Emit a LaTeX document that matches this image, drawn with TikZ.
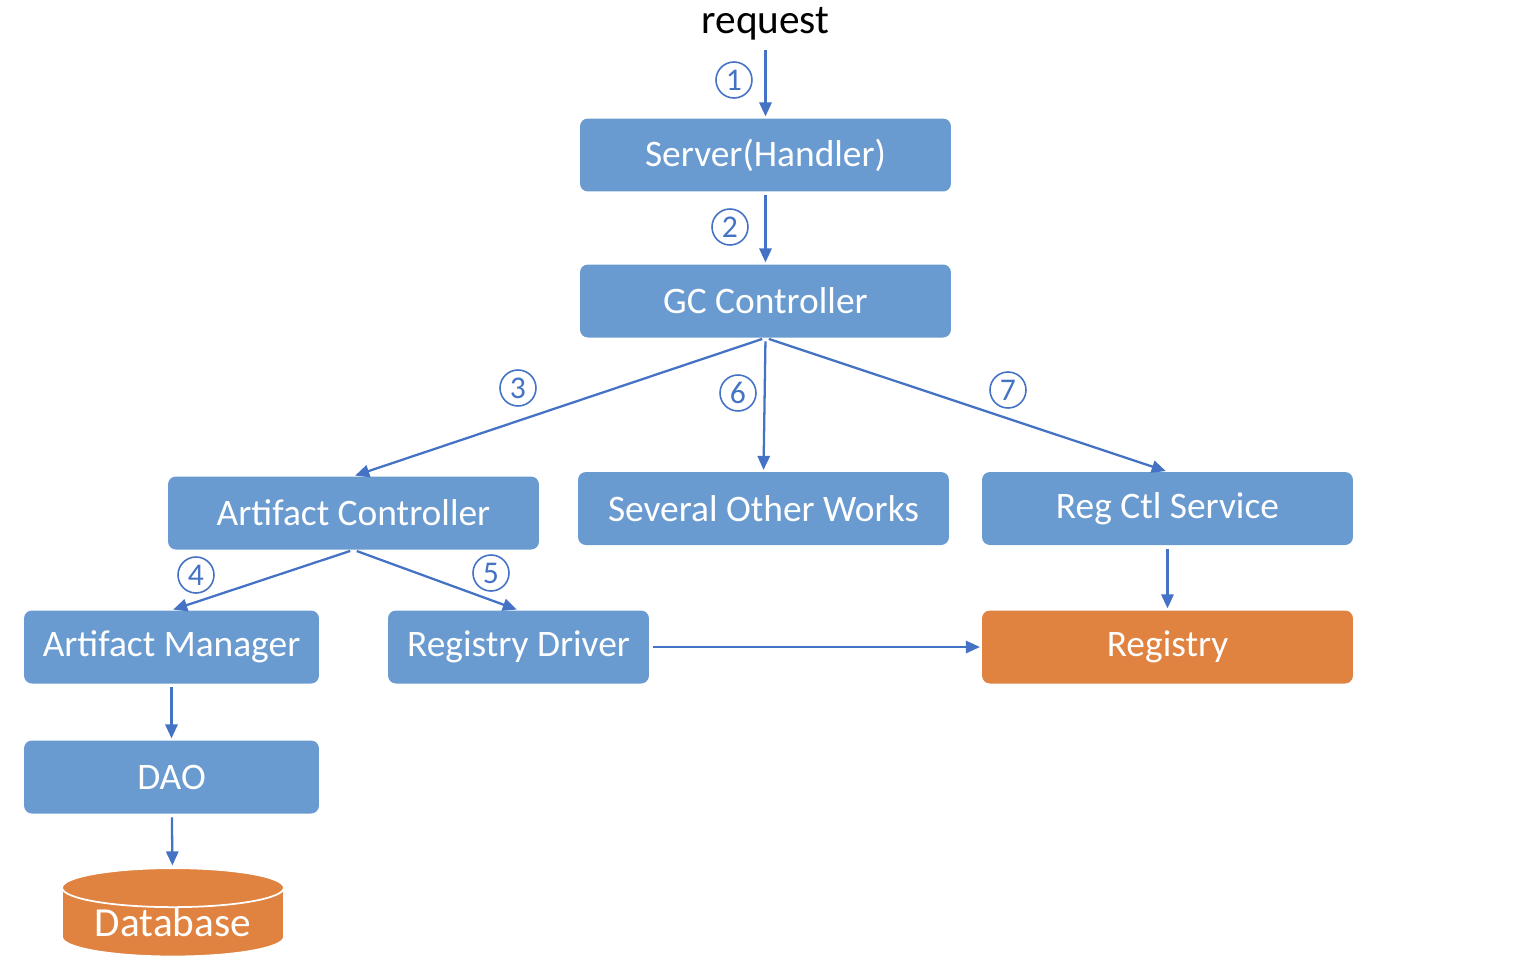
\documentclass[tikz,border=0pt]{standalone}
\usepackage{fontspec}
\setmainfont{Carlito}
\usetikzlibrary{arrows.meta}
\usetikzlibrary{positioning}
\usetikzlibrary{shapes.geometric}
\definecolor{boxblue}{RGB}{106,155,208}
\definecolor{boxorange}{RGB}{224,130,64}
\definecolor{linkblue}{RGB}{68,114,196}

\begin{document}
\begin{tikzpicture}[x=0.02cm,y=-0.02cm,
  block/.style={rectangle, rounded corners=4.5pt, fill=boxblue, text=white, inner sep=0pt, minimum height=1.46cm, font=\fontsize{21.3}{24}\selectfont},
  store/.style={block, fill=boxorange},
  link/.style={draw=linkblue, line width=1.3pt, -{Triangle[length=8pt, width=7pt]}, shorten <=2pt, shorten >=1pt},
  stepno/.style={circle, draw=linkblue, line width=0.9pt, text=linkblue, inner sep=0pt, minimum size=0.72cm, font=\fontsize{18}{18}\selectfont}]
\useasboundingbox (0,0) rectangle (1536,978);

% boxes
\node[font=\fontsize{23.5}{26}\selectfont] (req) at (765.5,24) {request};
\node[block, minimum width=7.42cm] (server) at (765.5,155) {Server(Handler)};
\node[block, minimum width=7.42cm] (gc) at (765.5,301) {GC Controller};
\node[block, minimum width=7.42cm] (artctl) at (353.5,513) {Artifact Controller};
\node[block, minimum width=7.42cm] (others) at (763.5,508.5) {Several Other Works};
\node[block, minimum width=7.42cm] (regctl) at (1167.5,508.5) {Reg Ctl Service};
\node[block, minimum width=5.9cm] (artmgr) at (171.5,647) {Artifact Manager};
\node[block, minimum width=5.22cm] (regdrv) at (518.5,647) {Registry Driver};
\node[store, minimum width=7.42cm] (registry) at (1167.5,647) {Registry};
\node[block, minimum width=5.9cm] (dao) at (171.5,777) {DAO};
\node[cylinder, shape border rotate=90, aspect=0.25, fill=boxorange, draw=white, line width=1pt, text=white, inner sep=0pt, minimum width=4.44cm, minimum height=1.76cm, font=\fontsize{23.5}{26}\selectfont] (db) at (173,922.5) {Database};

% steps
\node[stepno] (c1) at (734,80) {1};
\node[stepno] (c2) at (730,227) {2};
\node[stepno] (c3) at (518,388) {3};
\node[stepno] (c6) at (738,393) {6};
\node[stepno] (c7) at (1008,390) {7};
\node[stepno] (c4) at (196,575) {4};
\node[stepno] (c5) at (491,573) {5};

\draw[link] (req) -- (server);
\draw[link] (server) -- (gc);
\draw[link] (gc.south) -- (artctl.north);
\draw[link] (gc.south) -- (others.north);
\draw[link] (gc.south) -- (regctl.north);
\draw[link] (artctl.south) -- (artmgr.north);
\draw[link] (artctl.south) -- (regdrv.north);
\draw[link] (regctl) -- (registry);
\draw[link] (regdrv) -- (registry);
\draw[link] (artmgr) -- (dao);
\draw[link] (dao) -- (db);
\end{tikzpicture}
\end{document}
